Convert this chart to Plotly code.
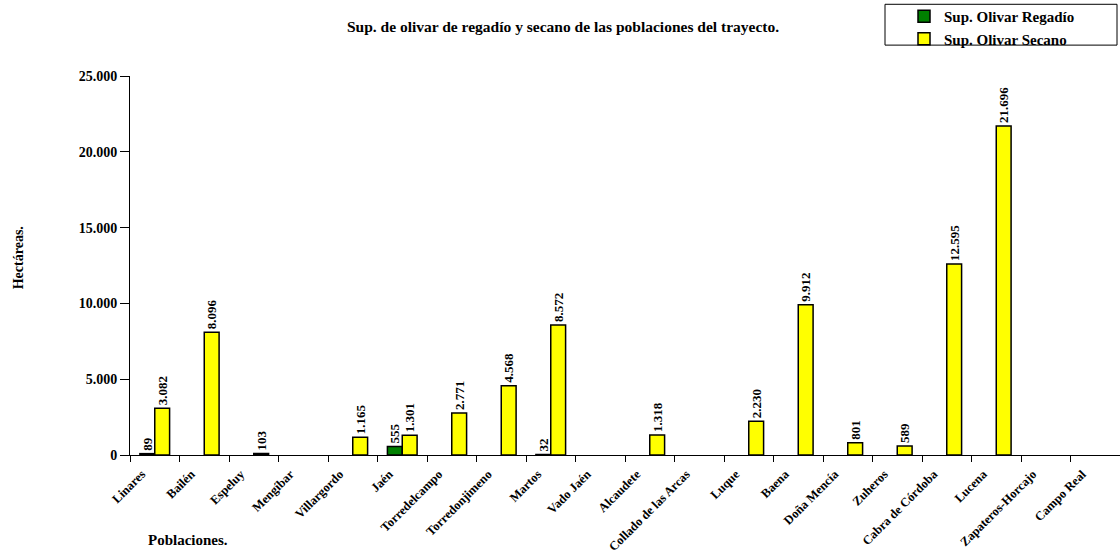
import plotly.graph_objects as go

poblaciones = ["Linares", "Bailén", "Espeluy", "Mengíbar", "Villargordo", "Jaén",
               "Torredelcampo", "Torredonjimeno", "Martos", "Vado Jaén", "Alcaudete",
               "Collado de las Arcas", "Luque", "Baena", "Doña Mencía", "Zuheros",
               "Cabra de Córdoba", "Lucena", "Zapateros-Horcajo", "Campo Real"]
regadio = [89, None, None, None, None, 555, None, None, 32, None, None,
           None, None, None, None, None, None, None, None, None]
secano = [3082, 8096, 103, None, 1165, 1301, 2771, 4568, 8572, None, 1318,
          None, 2230, 9912, 801, 589, 12595, 21696, None, None]
y_ticks = [0, 5000, 10000, 15000, 20000, 25000]

FONT = "Liberation Serif"
W, H = 1120, 559
L, R, T, B = 130, 0, 75, 103.5
PW, PH = W - L - R, H - T - B


def px(x):
    return (x - L) / PW


def py(y):
    return (H - B - y) / PH


def bold(size):
    return dict(family=FONT, size=size, color="black", weight="bold")


fig = go.Figure()
fig.add_trace(go.Bar(
    x=poblaciones, y=regadio, name="Sup. Olivar Regadío",
    marker=dict(color="#008000", line=dict(color="black", width=1.5)),
    texttemplate="%{y:,.0f}", textposition="outside", textangle=-90,
    textfont=bold(13), constraintext="none", cliponaxis=False,
))
fig.add_trace(go.Bar(
    x=poblaciones, y=secano, name="Sup. Olivar Secano",
    marker=dict(color="#FFFF00", line=dict(color="black", width=1.5)),
    texttemplate="%{y:,.0f}", textposition="outside", textangle=-90,
    textfont=bold(13), constraintext="none", cliponaxis=False,
))

fig.update_layout(
    width=W, height=H,
    margin=dict(l=L, r=R, t=T, b=B, pad=0),
    paper_bgcolor="white", plot_bgcolor="white",
    separators=",.",
    barmode="group", bargap=0.4, bargroupgap=0,
    font=dict(family=FONT, color="black"),
    title=dict(text="Sup. de olivar de regadío y secano de las poblaciones del trayecto.",
               x=563 / W, xanchor="center", y=1 - 27 / H, yanchor="middle",
               font=bold(15.5)),
    showlegend=True,
    legend=dict(x=px(904), y=py(-1), xanchor="left", yanchor="top",
                bgcolor="rgba(0,0,0,0)", borderwidth=0,
                font=bold(15), tracegroupgap=0, itemwidth=30),
    xaxis=dict(type="category", showline=True, linecolor="black", linewidth=1,
               ticks="outside", tickson="boundaries", ticklen=6, tickcolor="black",
               tickangle=-45, showgrid=False, automargin=False,
               ticklabelstandoff=6, ticklabelshift=-13,
               tickfont=bold(12.5)),
    yaxis=dict(range=[0, 25000], tickvals=y_ticks, tickformat=",.0f",
               showline=True, linecolor="black", linewidth=1, automargin=False,
               ticks="outside", ticklen=9, tickcolor="black", showgrid=False,
               zeroline=False, tickfont=bold(14)),
    shapes=[dict(type="rect", xref="paper", yref="paper",
                 x0=px(885), x1=px(1117), y0=py(44), y1=py(3),
                 line=dict(color="black", width=1), fillcolor="rgba(0,0,0,0)")],
    annotations=[
        dict(text="Hectáreas.", xref="paper", yref="paper",
             x=px(18), y=py(258), xanchor="center", yanchor="middle",
             textangle=-90, showarrow=False, font=bold(14)),
        dict(text="Poblaciones.", xref="paper", yref="paper",
             x=px(188), y=py(541), xanchor="center", yanchor="middle",
             showarrow=False, font=bold(15)),
    ],
)

fig.write_html("out.html", config={"displayModeBar": False},
               post_script="document.body.style.margin='0';")
